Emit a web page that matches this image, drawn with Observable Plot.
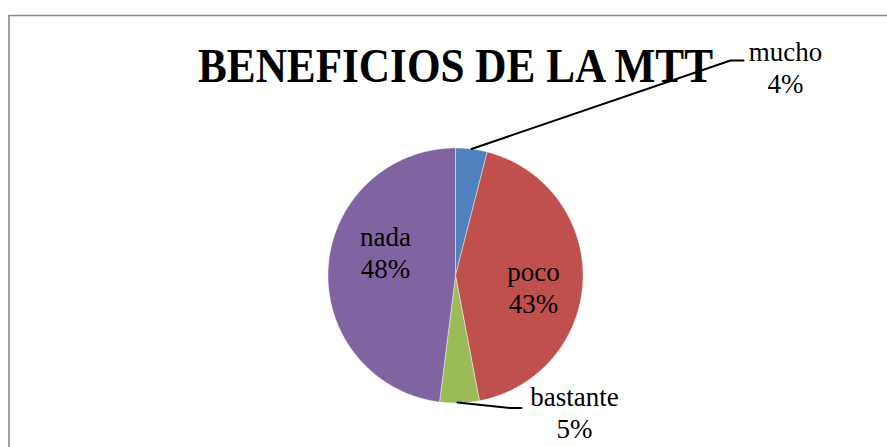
<!DOCTYPE html>
<html><head><meta charset="utf-8">
<script src="https://cdn.jsdelivr.net/npm/d3@7"></script>
<script src="https://cdn.jsdelivr.net/npm/@observablehq/plot@0.6"></script>
<style>body{margin:0;background:#fff} svg text{font-family:"Liberation Serif","Times New Roman",serif}</style>
</head><body><div id="chart"></div>
<script>
// ---- data ----
const categories = ["mucho", "poco", "bastante", "nada"];
const values = [4, 43, 5, 48];
const percentLabels = ["4%", "43%", "5%", "48%"];
const colors = ["#4F81BD", "#C0504D", "#9BBB59", "#8064A2"];
const title = "BENEFICIOS DE LA MTT";

// ---- layout ----
const W = 887, H = 447;
const cx = 455, cy = 275, r = 127.5;
const labelPos = [ [785, 92], [533, 312], [574, 437], [385, 277] ]; // baseline of last line
const leaders = [
  [[471, 148.5], [730, 60], [743, 60]],
  [[457, 402], [510, 407.5], [521, 407.5]]
];

const arcs = d3.pie().sort(null).value(d => d)(values);
const sliceMarks = arcs.map((a, i) => {
  const pts = [{x: cx, y: cy}];
  const n = Math.max(4, Math.ceil((a.endAngle - a.startAngle) / 0.005));
  for (let j = 0; j <= n; j++) {
    const t = a.startAngle + (a.endAngle - a.startAngle) * j / n;
    pts.push({x: cx + r * Math.sin(t), y: cy - r * Math.cos(t)});
  }
  pts.push({x: cx, y: cy});
  return Plot.line(pts, {x: "x", y: "y", fill: colors[i], stroke: "#ffffff", strokeOpacity: 0.6, strokeWidth: 0.7, curve: "linear"});
});

const labelLines = categories.flatMap((c, i) => [
  {text: c, x: labelPos[i][0], y: labelPos[i][1] - 32},
  {text: percentLabels[i], x: labelPos[i][0], y: labelPos[i][1]}
]);
const leaderData = leaders.flatMap((pts, k) => pts.map(p => ({k, x: p[0], y: p[1]})));

const chart = Plot.plot({
  width: W, height: H,
  margin: 0,
  x: {domain: [0, W], range: [0, W], axis: null},
  y: {domain: [0, H], range: [0, H], axis: null},
  style: {background: "#ffffff", fontFamily: "Liberation Serif"},
  marks: [
    Plot.ruleX([8.5], {y1: 15, y2: H + 5, stroke: "#898989", strokeWidth: 1.6}),
    Plot.ruleY([15], {x1: 8.5, x2: W + 5, stroke: "#898989", strokeWidth: 1.6}),
    ...sliceMarks,
    Plot.text([title], {x: [455], y: [81], text: d => d, lineAnchor: "bottom", fontSize: 49, fontWeight: "bold", fontFamily: "Liberation Serif", fill: "#000", className: "ttl"}),
    Plot.line(leaderData, {x: "x", y: "y", z: "k", stroke: "#000", strokeWidth: 2}),
    Plot.text(labelLines, {x: "x", y: "y", text: "text", lineAnchor: "bottom", fontSize: 27, fontFamily: "Liberation Serif", fill: "#000"})
  ]
});
document.getElementById("chart").appendChild(chart);
const t = chart.querySelector("g.ttl text");
if (t) { t.setAttribute("textLength", 515); t.setAttribute("lengthAdjust", "spacingAndGlyphs"); }
</script>
</body></html>
